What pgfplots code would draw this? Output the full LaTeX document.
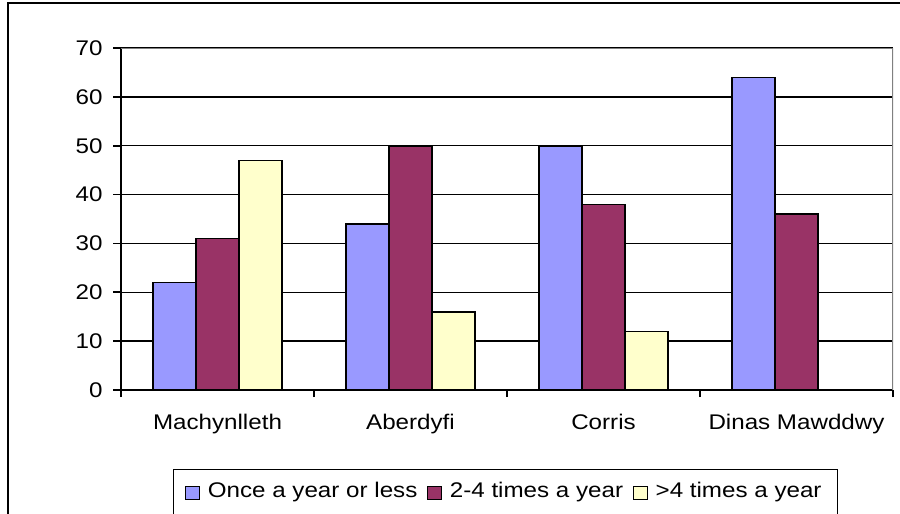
\documentclass[border=0pt]{standalone}
\usepackage{pgfplots}
\pgfplotsset{compat=1.18}
\usepackage{fontspec}
\setmainfont{Liberation Sans}[FakeStretch=1.14]
\definecolor{cA}{HTML}{9999FF}
\definecolor{cB}{HTML}{993366}
\definecolor{cC}{HTML}{FFFFCC}
\begin{document}
\fontsize{10.6pt}{12.5pt}\selectfont
\begin{tikzpicture}
\begin{axis}[
  at={(60.5pt,-195pt)}, anchor=south west,
  scale only axis, width=386pt, height=171pt,
  ymin=0, ymax=70, xmin=-0.5, xmax=3.5,
  ybar=0pt, bar width=21.5pt,
  axis x line*=bottom, axis y line*=left,
  axis line style={line width=0.9pt, -},
  ytick={0,10,...,70},
  xtick={0,1,2,3},
  xticklabels={Machynlleth,Aberdyfi,Corris,Dinas Mawddwy},
  minor xtick={-0.5,0.5,1.5,2.5,3.5},
  tick align=outside,
  major tick length=4pt, minor tick length=3.5pt,
  major x tick style={draw=none},
  minor x tick style={black, line width=0.9pt},
  y tick style={black, line width=0.9pt},
  ymajorgrids, grid style={black, line width=0.65pt},
  /pgf/number format/assume math mode=true,
  xticklabel style={yshift=-4.5pt},
  yticklabel style={xshift=-1.5pt},
  legend style={at={(0.498,-0.231)}, anchor=north, draw=black, line width=0.6pt,
    legend columns=-1, inner xsep=6pt, inner ysep=4.5pt,
    /tikz/every odd column/.append style={column sep=2pt},
    /tikz/every even column/.append style={column sep=3pt}},
  legend image code/.code={\draw[#1,draw=black,line width=0.55pt] (0pt,-3.8pt) rectangle (6.7pt,2.9pt);},
  every axis plot/.append style={draw=black, line width=0.8pt},
]
\addplot[fill=cA] coordinates {(0,22) (1,34) (2,50) (3,64)};
\addplot[fill=cB] coordinates {(0,31) (1,50) (2,38) (3,36)};
\addplot[fill=cC] coordinates {(0,47) (1,16) (2,12)};
\legend{Once a year or less, 2-4 times a year, >4 times a year}
\draw[gray, line width=0.9pt] (rel axis cs:0,1) -- (rel axis cs:1,1) -- (rel axis cs:1,0);
\end{axis}
\draw[line width=1pt] (4pt,-262pt) -- (4pt,-1.5pt) -- (455pt,-1.5pt);
\pgfresetboundingbox
\useasboundingbox (0,0) rectangle (450pt,-257pt);
\end{tikzpicture}
\end{document}
